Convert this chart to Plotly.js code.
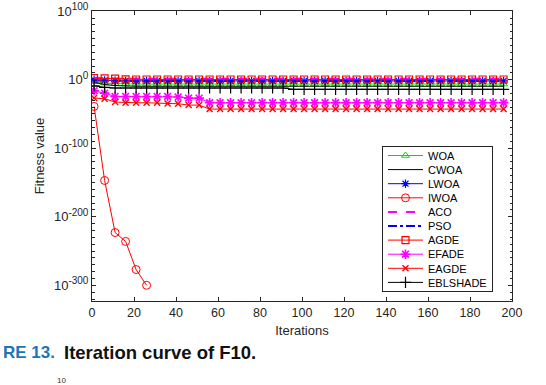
<!DOCTYPE html>
<html>
<head>
<meta charset="utf-8">
<script src="https://cdn.plot.ly/plotly-3.0.1.min.js"></script>
<style>
  html, body { margin: 0; padding: 0; background: #ffffff; }
  #plot { width: 546px; height: 385px; }
</style>
</head>
<body>
<div id="plot"></div>
<script>
// Iterations at which values (and markers) are recorded
var iters = [1, 6, 11, 16, 21, 26, 31, 36, 41, 46, 51, 56, 61, 66, 71, 76, 81, 86, 91, 96,
             101, 106, 111, 116, 121, 126, 131, 136, 141, 146, 151, 156, 161, 166, 171, 176, 181, 186, 191, 196];

var seriesNames = ['WOA', 'CWOA', 'LWOA', 'IWOA', 'ACO', 'PSO', 'AGDE', 'EFADE', 'EAGDE', 'EBLSHADE'];

var WOA = [2e-3, 1e-5, 2e-6, 5e-7, 5e-7, 5e-7, 5e-7, 5e-7, 5e-7, 5e-7,
           5e-7, 5e-7, 5e-7, 5e-7, 5e-7, 5e-7, 5e-7, 5e-7, 5e-7, 5e-7,
           5e-7, 5e-7, 5e-7, 5e-7, 5e-7, 5e-7, 5e-7, 5e-7, 5e-7, 5e-7,
           5e-7, 5e-7, 5e-7, 5e-7, 5e-7, 5e-7, 5e-7, 5e-7, 5e-7, 5e-7];

var CWOA = [1e-4, 1e-7, 3e-9, 3e-10, 3e-10, 3e-10, 3e-10, 3e-10, 3e-10, 3e-10,
            3e-10, 3e-10, 3e-10, 3e-10, 3e-10, 3e-10, 3e-10, 3e-10, 3e-10, 3e-10,
            3e-10, 3e-10, 3e-10, 3e-10, 3e-10, 3e-10, 3e-10, 3e-10, 3e-10, 3e-10,
            3e-10, 3e-10, 3e-10, 3e-10, 3e-10, 3e-10, 3e-10, 3e-10, 3e-10, 3e-10];

var LWOA = [0.5, 0.1, 0.03, 0.02, 0.02, 0.02, 0.02, 0.02, 0.02, 0.02,
            0.02, 0.02, 0.02, 0.02, 0.02, 0.02, 0.02, 0.02, 0.02, 0.02,
            0.02, 0.02, 0.02, 0.02, 0.02, 0.02, 0.02, 0.02, 0.02, 0.02,
            0.02, 0.02, 0.02, 0.02, 0.02, 0.02, 0.02, 0.02, 0.02, 0.02];

var IWOA = [1e-39, 1e-147, 1e-223, 1e-236, 1e-277, 1e-300];

var ACO = [200, 50, 30, 30, 30, 30, 30, 30, 30, 30,
           30, 30, 30, 30, 30, 30, 30, 30, 30, 30,
           30, 30, 30, 30, 30, 30, 30, 30, 30, 30,
           30, 30, 30, 30, 30, 30, 30, 30, 30, 30];

var PSO = [0.1, 0.03, 0.01, 0.01, 0.01, 0.01, 0.01, 0.01, 0.01, 0.01,
           0.01, 0.01, 0.01, 0.01, 0.01, 0.01, 0.01, 0.01, 0.01, 0.01,
           0.01, 0.01, 0.01, 0.01, 0.01, 0.01, 0.01, 0.01, 0.01, 0.01,
           0.01, 0.01, 0.01, 0.01, 0.01, 0.01, 0.01, 0.01, 0.01, 0.01];

var AGDE = [300, 80, 30, 3, 2, 2, 2, 2, 2, 2,
            2, 2, 2, 2, 2, 2, 2, 2, 2, 2,
            2, 2, 2, 2, 2, 2, 2, 2, 2, 2,
            2, 2, 2, 2, 2, 2, 2, 2, 2, 2];

var EFADE = [8e-17, 3e-20, 4e-25, 4e-25, 4e-25, 4e-25, 4e-25, 4e-25, 5e-26, 1.5e-27,
             1.5e-27, 2.5e-34, 2.5e-34, 2.5e-34, 2.5e-34, 2.5e-34, 2.5e-34, 2.5e-34, 2.5e-34, 2.5e-34,
             2.5e-34, 2.5e-34, 2.5e-34, 2.5e-34, 2.5e-34, 2.5e-34, 2.5e-34, 2.5e-34, 2.5e-34, 2.5e-34,
             2.5e-34, 2.5e-34, 2.5e-34, 2.5e-34, 2.5e-34, 2.5e-34, 2.5e-34, 2.5e-34, 2.5e-34, 2.5e-34];

var EAGDE = [2e-27, 2e-28, 2.5e-33, 2.5e-34, 2.5e-34, 2.5e-34, 2.5e-34, 2.5e-35, 1e-35, 1e-37,
             1e-37, 1.5e-43, 1.5e-43, 1.5e-43, 1.5e-43, 1.5e-43, 1.5e-43, 1.5e-43, 1.5e-43, 1.5e-43,
             1.5e-43, 1.5e-43, 1.5e-43, 1.5e-43, 1.5e-43, 1.5e-43, 1.5e-43, 1.5e-43, 1.5e-43, 1.5e-43,
             1.5e-43, 1.5e-43, 1.5e-43, 1.5e-43, 1.5e-43, 1.5e-43, 1.5e-43, 1.5e-43, 1.5e-43, 1.5e-43];

var EBLSHADE = [1.5e-9, 6e-12, 8e-13, 8e-13, 8e-13, 8e-13, 8e-13, 8e-13, 8e-13, 8e-13,
                8e-13, 8e-13, 8e-13, 8e-13, 8e-13, 8e-13, 8e-13, 8e-13, 8e-13, 1e-14,
                1e-14, 1e-14, 1e-14, 1e-14, 1e-14, 1e-14, 1e-14, 1e-14, 1e-14, 1e-14,
                1e-14, 1e-14, 1e-14, 1e-14, 1e-14, 1e-14, 1e-14, 1e-14, 1e-14, 1e-14];

var yTickVals = [1e-300, 1e-200, 1e-100, 1, 1e100];
var yTickExps = ['-300', '-200', '-100', '0', '100'];

var seriesValues = [WOA, CWOA, LWOA, IWOA, ACO, PSO, AGDE, EFADE, EAGDE, EBLSHADE];

var styles = [
  {color: '#00e000', dash: 'solid', width: 1, symbol: 'triangle-up-open', size: 7, mw: 1},
  {color: '#000000', dash: 'solid', width: 1, symbol: null},
  {color: '#0000ff', dash: 'solid', width: 1, symbol: 'asterisk-open', size: 7, mw: 1.2},
  {color: '#ff0000', dash: 'solid', width: 1, symbol: 'circle-open', size: 8, mw: 1},
  {color: '#ff00ff', dash: 'dash', width: 2, symbol: null},
  {color: '#0000ff', dash: 'dashdot', width: 2, symbol: null},
  {color: '#ff0000', dash: 'solid', width: 1, symbol: 'square-open', size: 7, mw: 1.2},
  {color: '#ff00ff', dash: 'solid', width: 1, symbol: 'asterisk-open', size: 8, mw: 1.6},
  {color: '#ff0000', dash: 'solid', width: 1, symbol: 'x-thin-open', size: 6, mw: 1.4},
  {color: '#000000', dash: 'solid', width: 1, symbol: 'cross-thin-open', size: 8, mw: 1.2}
];

var traces = seriesNames.map(function(name, i) {
  var s = styles[i];
  var vals = seriesValues[i];
  var t = {
    type: 'scatter',
    name: name,
    x: iters.slice(0, vals.length),
    y: vals,
    mode: s.symbol ? 'lines+markers' : 'lines',
    line: {color: s.color, width: s.width, dash: s.dash},
    hoverinfo: 'skip'
  };
  if (s.symbol) {
    t.marker = {symbol: s.symbol, size: s.size, color: s.color, line: {color: s.color, width: s.mw}};
  }
  return t;
});

// pixel helpers for annotations (plot area: x 92..512, y 11..301)
function px(x) { return (x - 92) / 420; }
function py(y) { return 1 - (y - 11) / 290; }

var FAM = 'Liberation Sans, Arial, sans-serif';
var axisFont = {family: FAM, size: 12, color: '#262626'};

var layout = {
  width: 546,
  height: 385,
  margin: {l: 92, r: 34, t: 11, b: 84, pad: 0},
  paper_bgcolor: '#ffffff',
  plot_bgcolor: '#ffffff',
  showlegend: true,
  font: axisFont,
  xaxis: {
    range: [0, 200],
    dtick: 20,
    tick0: 0,
    ticks: 'inside',
    ticklen: 4,
    tickcolor: '#262626',
    showline: true,
    linecolor: '#262626',
    linewidth: 1,
    mirror: 'allticks',
    showgrid: false,
    zeroline: false,
    tickfont: {family: FAM, size: 12.5, color: '#262626'},
    title: {text: 'Iterations', font: {family: FAM, size: 13, color: '#262626'}, standoff: 6}
  },
  yaxis: {
    type: 'log',
    range: [-322.9, 100.3],
    tickmode: 'array',
    tickvals: yTickVals,
    ticktext: yTickExps.map(function(e) { return '10<sup><span style="font-size:10px">' + e + '</span></sup>'; }),
    ticks: 'inside',
    ticklen: 4,
    tickcolor: '#262626',
    minor: {dtick: 10, ticks: 'inside', ticklen: 2.5, tickcolor: '#262626', showgrid: false},
    showline: true,
    linecolor: '#262626',
    linewidth: 1,
    mirror: 'allticks',
    showgrid: false,
    zeroline: false,
    tickfont: {family: FAM, size: 13, color: '#262626'},
    title: {text: 'Fitness value', font: {family: FAM, size: 13, color: '#262626'}, standoff: 6}
  },
  legend: {
    x: px(382),
    y: py(146),
    xanchor: 'left',
    yanchor: 'top',
    bgcolor: '#ffffff',
    bordercolor: '#262626',
    borderwidth: 1,
    itemwidth: 35,
    font: {family: FAM, size: 11, color: '#000000'},
    tracegroupgap: 0
  },
  annotations: [
    {xref: 'paper', yref: 'paper', x: px(0.5), y: py(352), xanchor: 'left', yanchor: 'middle',
     text: '<b>RE 13.</b>', showarrow: false,
     font: {family: FAM, size: 17, color: '#1f74b5'}},
    {xref: 'paper', yref: 'paper', x: px(62), y: py(352), xanchor: 'left', yanchor: 'middle',
     text: '<b>Iteration curve of F10.</b>', showarrow: false,
     font: {family: FAM, size: 18.5, color: '#111111'}},
    {xref: 'paper', yref: 'paper', x: px(55), y: py(380), xanchor: 'left', yanchor: 'middle',
     text: '10', showarrow: false,
     font: {family: FAM, size: 8, color: '#333333'}}
  ]
};

var gd = document.getElementById('plot');
Plotly.newPlot(gd, traces, layout, {staticPlot: true, displayModeBar: false}).then(function(g) {
  // compact the legend rows to match the reference spacing
  var legend = g.querySelector('.legend');
  if (!legend) return;
  var items = legend.querySelectorAll('.traces');
  var step = 14.1, top = 9.5;
  for (var i = 0; i < items.length; i++) {
    items[i].setAttribute('transform', 'translate(1,' + (top + i * step) + ')');
  }
  var bg = legend.querySelector('.bg');
  if (bg) bg.setAttribute('height', top + (items.length - 1) * step + 9);
});
</script>
</body>
</html>
